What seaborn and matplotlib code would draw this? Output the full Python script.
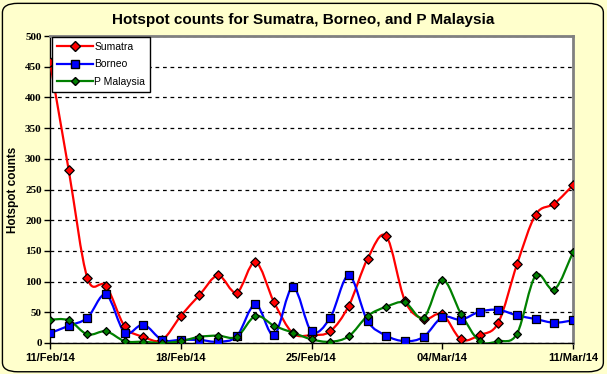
import numpy as np
import pandas as pd
import matplotlib
matplotlib.use("Agg")
import matplotlib.pyplot as plt
import matplotlib.dates as mdates
from matplotlib.path import Path
from matplotlib.patches import PathPatch, FancyBboxPatch
from matplotlib.lines import Line2D
import seaborn as sns

# daily hotspot counts, 11 Feb 2014 .. 11 Mar 2014
dates = pd.date_range("2014-02-11", "2014-03-11", freq="D")
sumatra = [458, 282, 106, 93, 27, 10, 5, 44, 78, 110, 82, 132, 66, 16, 13,
           19, 61, 137, 174, 69, 39, 47, 6, 13, 33, 128, 209, 227, 257]
borneo = [16, 28, 41, 79, 17, 30, 5, 5, 5, 2, 11, 63, 13, 91, 19,
          41, 110, 36, 12, 3, 10, 42, 38, 51, 54, 45, 39, 33, 37]
malaysia = [38, 37, 14, 19, 3, 2, 0, 3, 10, 12, 10, 44, 28, 17, 6,
            2, 11, 44, 59, 66, 41, 103, 48, 3, 3, 15, 110, 87, 148]
series_names = ["Sumatra", "Borneo", "P Malaysia"]
tick_dates = pd.to_datetime(["2014-02-11", "2014-02-18", "2014-02-25",
                             "2014-03-04", "2014-03-11"])

colors = {"Sumatra": "#FF0000", "Borneo": "#0000FF", "P Malaysia": "#008000"}
markers = {"Sumatra": "D", "Borneo": "s", "P Malaysia": "D"}
msizes = {"Sumatra": 4.8, "Borneo": 5.3, "P Malaysia": 4.0}

df = pd.DataFrame({"date": np.tile(dates, 3),
                   "count": sumatra + borneo + malaysia,
                   "region": np.repeat(series_names, len(dates))})


def smooth_path(x, y):
    # Excel style smoothed line: cubic bezier with catmull-rom control points
    pts = np.column_stack([x, y]).astype(float)
    verts = [pts[0]]
    codes = [Path.MOVETO]
    n = len(pts)
    for i in range(n - 1):
        p0 = pts[max(i - 1, 0)]
        p1 = pts[i]
        p2 = pts[i + 1]
        p3 = pts[min(i + 2, n - 1)]
        c1 = p1 + (p2 - p0) / 6.0
        c2 = p2 - (p3 - p1) / 6.0
        verts += [c1, c2, p2]
        codes += [Path.CURVE4] * 3
    return Path(verts, codes)


plt.rcParams["font.family"] = ["Liberation Sans", "DejaVu Sans"]
bg = "#FFFFCC"
fig = plt.figure(figsize=(6.07, 3.74), dpi=100, facecolor=bg)
ax = fig.add_axes([50 / 607, 1 - 343 / 374, 523 / 607, 307 / 374])
ax.set_facecolor("white")

# rounded chart border
fig.patches.append(FancyBboxPatch((0.004, 0.006), 0.99, 0.985,
                                  boxstyle="round,pad=0,rounding_size=0.025",
                                  transform=fig.transFigure, facecolor="none",
                                  edgecolor="black", linewidth=1.0))

xnum = mdates.date2num(dates)
for name, vals in zip(series_names, [sumatra, borneo, malaysia]):
    ax.add_patch(PathPatch(smooth_path(xnum, vals), facecolor="none",
                           edgecolor=colors[name], linewidth=1.6, zorder=3))

for name in series_names:
    sub = df[df["region"] == name]
    sns.scatterplot(data=sub, x="date", y="count", ax=ax, marker=markers[name],
                    color=colors[name], edgecolor="black", linewidth=0.9,
                    s=msizes[name] ** 2, zorder=4, legend=False)

ax.set_xlim(dates[0], dates[-1])
ax.set_ylim(0, 500)
ax.set_yticks(np.arange(0, 501, 50))
ax.set_xticks(tick_dates)
ax.xaxis.set_major_formatter(mdates.DateFormatter("%d/%b/%y"))
ax.tick_params(axis="both", which="major", direction="out", length=4,
               width=1, color="black")
for lab in ax.get_xticklabels():
    lab.set_fontweight("bold")
    lab.set_fontsize(8)
for lab in ax.get_yticklabels():
    lab.set_fontfamily("Liberation Serif")
    lab.set_fontweight("bold")
    lab.set_fontsize(8)
ax.tick_params(axis="x", pad=3)
ax.tick_params(axis="y", pad=2)

ax.grid(axis="y", linestyle=(0, (3, 3)), color="black", linewidth=0.9)
ax.grid(axis="x", visible=False)
ax.set_axisbelow(True)

for side in ["top", "right"]:
    ax.spines[side].set_color("#808080")
    ax.spines[side].set_linewidth(2)
for side in ["left", "bottom"]:
    ax.spines[side].set_color("black")
    ax.spines[side].set_linewidth(1)

ax.set_xlabel("")
ax.set_ylabel("Hotspot counts", fontsize=8.5, fontweight="bold", labelpad=4)
fig.text(0.5, 1 - 20 / 374, "Hotspot counts for Sumatra, Borneo, and P Malaysia",
         ha="center", va="center", fontsize=11, fontweight="bold")

handles = [Line2D([], [], color=colors[n], marker=markers[n], markersize=msizes[n],
                  markerfacecolor=colors[n], markeredgecolor="black", lw=1.6)
           for n in series_names]
leg = ax.legend(handles, series_names, loc="upper left", bbox_to_anchor=(0.003, 0.997),
                frameon=True, fancybox=False, framealpha=1, edgecolor="black",
                fontsize=7.5, handlelength=3.5, handletextpad=0.1,
                borderpad=0.5, labelspacing=0.7, borderaxespad=0)
leg.get_frame().set_linewidth(1)
leg.set_zorder(10)

fig.savefig("out.png", dpi=100, facecolor=bg)
